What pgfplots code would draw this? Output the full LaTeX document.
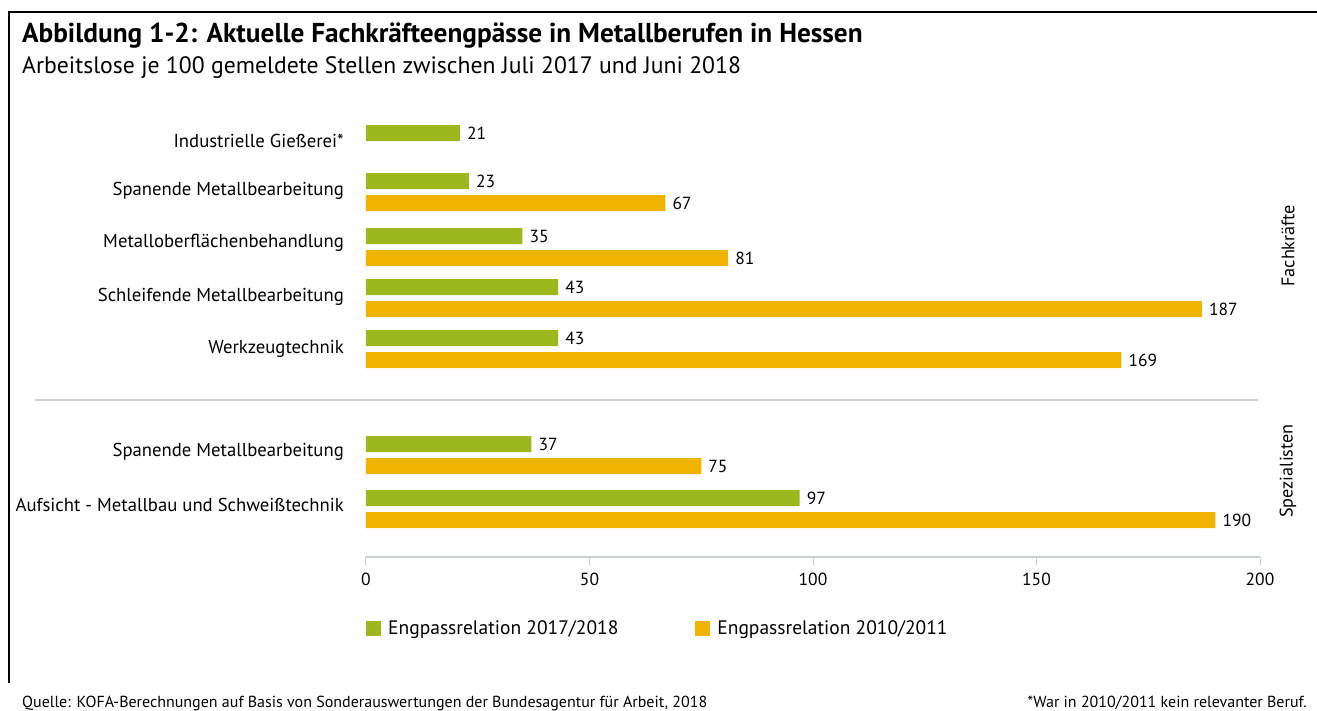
\documentclass[border=0pt]{standalone}
\usepackage{fontspec}
\setmainfont{PT Sans}
\usepackage{pgfplots}
\pgfplotsset{compat=1.18}
\definecolor{cgreen}{HTML}{9DB81E}
\definecolor{corange}{HTML}{EFB300}
\definecolor{axisgrey}{HTML}{C9CFD5}
\newcommand{\fs}[1]{\fontsize{#1bp}{#1bp}\selectfont}
\begin{document}
\begin{tikzpicture}
\path[use as bounding box] (0,0) rectangle (1317bp,-711bp);
\draw[line width=1.6bp,black] (9bp,-683bp) -- (9bp,-12bp) -- (1317bp,-12bp);
\node[anchor=base west,inner sep=0pt,font=\fs{27.3}\bfseries] at (22bp,-42bp) {Abbildung 1-2: Aktuelle Fachkräfteengpässe in Metallberufen in Hessen};
\node[anchor=base west,inner sep=0pt,font=\fs{23.7}] at (22bp,-73bp) {Arbeitslose je 100 gemeldete Stellen zwischen Juli 2017 und Juni 2018};
\draw[axisgrey,line width=1.2bp] (35bp,-400bp) -- (1258bp,-400bp);
\node[rotate=90,font=\fs{18.2}] at (1288bp,-246bp) {Fachkräfte};
\node[rotate=90,font=\fs{18.2}] at (1288bp,-471bp) {Spezialisten};
\node[anchor=base west,inner sep=0pt,font=\fs{16}] at (22bp,-707bp) {Quelle: KOFA-Berechnungen auf Basis von Sonderauswertungen der Bundesagentur für Arbeit, 2018};
\node[anchor=base east,inner sep=0pt,font=\fs{16}] at (1307bp,-707bp) {*War in 2010/2011 kein relevanter Beruf.};
\begin{axis}[
  at={(366bp,-557bp)}, anchor=south west,
  scale only axis, width=894bp, height=447bp,
  xmin=0, xmax=200, ymin=-557, ymax=-110,
  clip=false,
  xbar, bar width=16bp, bar shift=0pt,
  axis x line*=bottom, axis y line*=left,
  x axis line style={axisgrey,line width=1.2bp,-},
  y axis line style={draw=none},
  xtick={0,50,100,150,200},
  xtick align=outside, major tick length=8bp,
  xtick style={axisgrey,line width=1bp},
  ytick style={draw=none},
  ytick={-141,-191,-243,-297,-349,-452,-505},
  yticklabels={Industrielle Gießerei*,Spanende Metallbearbeitung,Metalloberflächenbehandlung,Schleifende Metallbearbeitung,Werkzeugtechnik,Spanende Metallbearbeitung,Aufsicht - Metallbau und Schweißtechnik},
  yticklabel style={font=\fs{18.7},anchor=east,inner sep=0pt,xshift=-14bp},
  xticklabel style={font=\fs{17.5},inner sep=0pt,yshift=-8bp},
  /pgf/number format/assume math mode=true,
  nodes near coords,
  every node near coord/.append style={font=\fs{17.5},anchor=west,inner sep=0pt,xshift=7bp,text=black},
  legend style={at={(0,-0.159)},anchor=west,draw=none,fill=none,legend columns=2,font=\fs{19.5},inner sep=0pt,
    /tikz/every even column/.append style={column sep=75bp}},
  legend cell align=left,
  legend image code/.code={\fill[#1] (0bp,-7.5bp) rectangle (15bp,7.5bp); \path (0bp,0bp) -- (20bp,0bp);},
]
\addplot[fill=cgreen,draw=none] coordinates {(21,-133) (23,-181) (35,-236) (43,-287) (43,-338) (37,-444) (97,-498)};
\addplot[fill=corange,draw=none] coordinates {(67,-203) (81,-258) (187,-309) (169,-360) (75,-466) (190,-520)};
\legend{Engpassrelation 2017/2018,Engpassrelation 2010/2011}
\end{axis}
\end{tikzpicture}
\end{document}
